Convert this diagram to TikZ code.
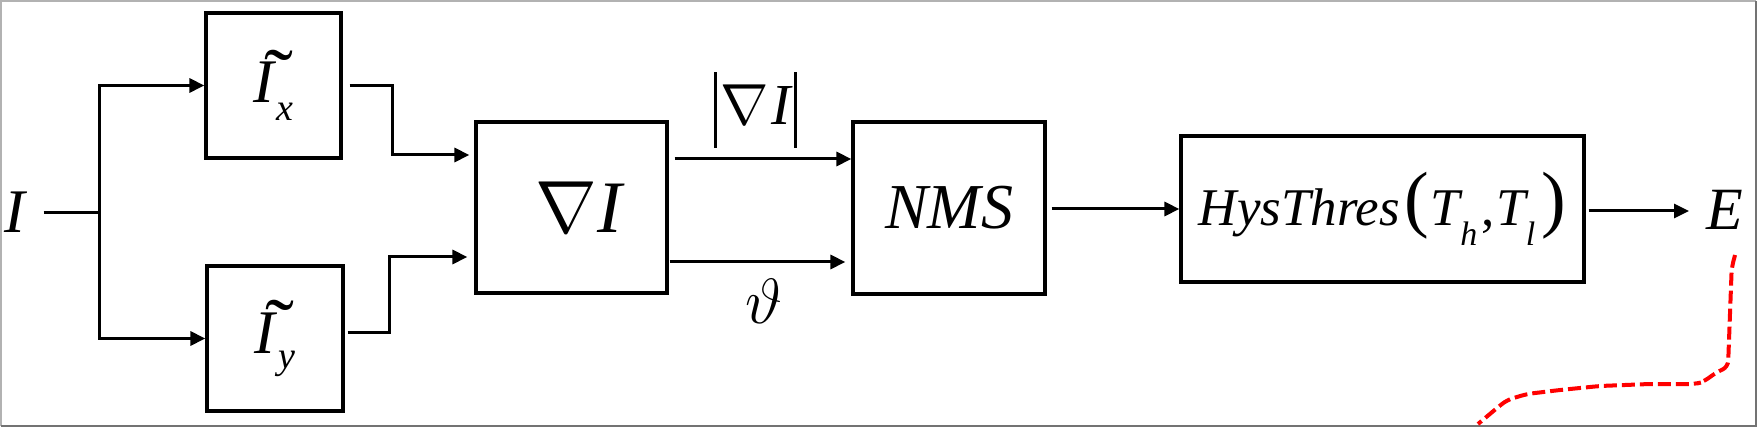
\RequirePackage{fix-cm}
\documentclass[tikz,border=0pt]{standalone}
\usepackage{fontspec}
\setmainfont{Liberation Serif}
\usetikzlibrary{arrows.meta,calc}
\newcommand\fsz[1]{\fontsize{#1}{#1}\selectfont}
\newcommand\tldI{\makebox[0pt][l]{\hspace{0.17em}\raisebox{-0.03em}{\scalebox{1.4}[1.3]{\char"02DC}}}{\itshape I}}
\newcommand\vbar{\raisebox{-11.5pt}{\rule{1.3pt}{38pt}}}
\begin{document}
\begin{tikzpicture}[x=0.5pt,y=-0.5pt,
  box/.style={draw,line width=1.6pt,inner sep=0pt},
  wire/.style={line width=1.5pt},
  arr/.style={wire,-{Triangle[length=7.5pt,width=7pt]}},
  lbl/.style={inner sep=0pt},
  reddash/.style={draw=red,line width=2pt,dash pattern=on 6.5pt off 2.5pt,rounded corners=3pt}]
\useasboundingbox (0,0) rectangle (1757,427);
% frame
\draw[black!30,line width=1.3pt] (1,426) -- (1,1) -- (1756,1);
\draw[black!55,line width=1.3pt] (1756,1) -- (1756,426) -- (1,426);
% boxes
\node[box,minimum width=67.5pt,minimum height=72.5pt] (Ix) at (273.5,85.5)
  {\fsz{31}\tldI\kern1pt\raisebox{-9pt}{\fsz{19}\itshape x}};
\node[box,minimum width=68pt,minimum height=72.5pt] (Iy) at (275,338.5)
  {\fsz{31}\tldI\kern1.5pt\raisebox{-7.5pt}{\fsz{19}\itshape y}};
\node[box,minimum width=95.5pt,minimum height=85.5pt] (grad) at (571.5,207.5)
  {\fsz{37}\hspace*{7.5pt}$\nabla\mbox{\itshape I}$};
\node[box,minimum width=96pt,minimum height=86pt] (nms) at (949,208)
  {\fsz{32}\itshape NMS};
\node[box,minimum width=201.5pt,minimum height=73pt] (hys) at (1382.5,209)
  {\fsz{26.5}\itshape HysThres\kern2pt\raisebox{1pt}{\fsz{37}\upshape (}\kern1pt T\raisebox{-10pt}{\fsz{17}h}\kern2pt\upshape ,\kern1pt\itshape T\raisebox{-10pt}{\fsz{17}l}\kern3pt\raisebox{1pt}{\fsz{37}\upshape )}};
% labels
\node[lbl] (in) at (15,212) {\fsz{31}\itshape I};
\node[lbl] (mag) at (755.5,110) {\fsz{29}\vbar\kern2pt$\nabla$\kern1pt{\itshape I}\kern2pt\vbar};
\node[lbl] (theta) at (764,301) {\fsz{32}$\vartheta$};
\node[lbl] (E) at (1725,210) {\fsz{30}\itshape E};
% connectors
\coordinate (split) at (99,213);
\draw[wire] ($(in.east)+(18,1)$) -- (split);
\draw[arr] (split) |- (Ix.west);
\draw[arr] (split) |- (Iy.west);
\draw[arr] ($(Ix.east)+(7,0.5)$) -| ($(grad.west)+(-82,-52.5)$) -- ($(grad.west)+(-5,-52.5)$);
\draw[arr] ($(Iy.east)+(3,-5.5)$) -| ($(grad.west)+(-85,49.5)$) -- ($(grad.west)+(-7,49.5)$);
\draw[arr] ($(grad.east)+(6,-48.5)$) -- ($(nms.west)+(0,-49)$);
\draw[arr] ($(grad.east)+(1,54.5)$) -- ($(nms.west)+(-6,54)$);
\draw[arr] ($(nms.east)+(5,1)$) -- (hys.west);
\draw[arr] ($(hys.east)+(3,2)$) -- ($(E.center)+(-36,1)$);
% red dashed annotation
\draw[reddash] (1735,255) -- (1731.7,268) -- (1728,367) -- (1717,372) -- (1703,382) -- (1695,384) -- (1650,384) -- (1600,386) -- (1560,390) -- (1527,394) -- (1507,400) -- (1497,408) -- (1478,424);
\end{tikzpicture}
\end{document}
